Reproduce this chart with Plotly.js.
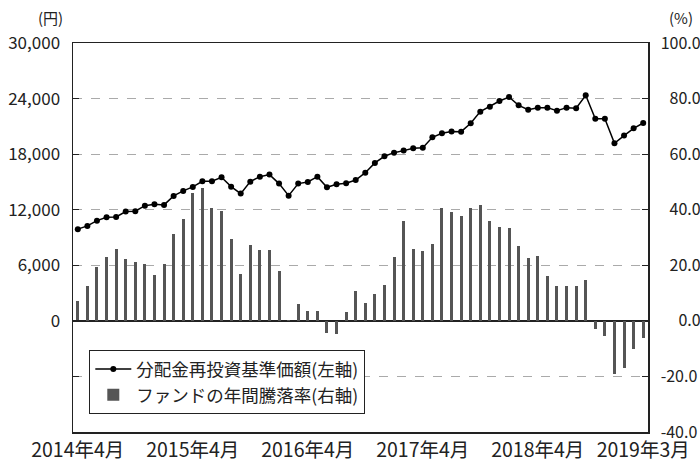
<!DOCTYPE html>
<html><head><meta charset="utf-8">
<script src="https://cdn.plot.ly/plotly-3.0.1.min.js"></script>
<style>html,body{margin:0;padding:0;background:#fff}#chart{width:700px;height:464px}</style>
</head><body><div id="chart"></div>
<script>
// monthly index: 0 = 2014年4月 ... 59 = 2019年3月
const months = Array.from({length: 60}, (_, i) => i);
const price = [9900,10250,10820,11190,11220,11800,11840,12440,12590,12520,
  13490,14030,14460,15070,15070,15500,14490,13740,15030,15570,
  15790,14820,13520,14820,15000,15570,14420,14750,14860,15210,
  16000,17050,17770,18160,18380,18630,18700,19820,20250,20450,
  20430,21330,22590,23130,23740,24170,23270,22800,23020,23020,
  22690,23020,22950,24350,21830,21830,19170,20000,20790,21360];
const returns = [7.3,12.6,19.4,23.0,25.9,22.3,21.2,20.5,16.5,20.5,
  31.3,36.7,46.0,47.8,40.6,39.6,29.5,16.9,27.3,25.5,
  25.5,18.0,0.3,6.1,3.6,3.6,-4.2,-4.6,3.2,10.8,
  6.5,9.7,12.9,23.0,36.0,25.9,25.2,27.7,40.6,39.2,
  37.8,40.6,41.7,36.0,33.8,33.5,27.0,22.7,23.4,16.2,
  12.6,12.6,12.6,14.7,-3.1,-5.3,-19.0,-16.8,-10.0,-6.0];
const xTickVals = [0,12,24,36,48,59];
const xTickText = ['2014年4月','2015年4月','2016年4月','2017年4月','2018年4月','2019年3月'];
const yenTickVals = [-6000,0,6000,12000,18000,24000,30000];
const yenTickText = ['','0','6,000','12,000','18,000','24,000','30,000'];
const pctTickVals = [-40,-20,0,20,40,60,80,100];
const pctTickText = ['-40.0','-20.0','\u2007\u20070.0','\u200720.0','\u200740.0','\u200760.0','\u200780.0','100.0'];
const lineName = '分配金再投資基準価額(左軸)';
const barName = 'ファンドの年間騰落率(右軸)';

const font = 'Noto Sans CJK JP, Noto Sans, sans-serif';
const traces = [
  {type:'bar', x: months, y: returns, name: barName, yaxis:'y', width:0.32,
   marker:{color:'#555555'}, legendrank: 2},
  {type:'scatter', mode:'lines+markers', x: months, y: price, name: lineName, yaxis:'y2',
   line:{color:'#000', width:1.5}, marker:{color:'#000', size:6}, legendrank: 1}
];
const layout = {
  width:700, height:464,
  margin:{l:73, r:52, t:43, b:32},
  paper_bgcolor:'#fff', plot_bgcolor:'#fff',
  font:{family:font, color:'#222', size:16},
  showlegend:true,
  bargap:0,
  xaxis:{range:[-0.5,59.5], tickvals:xTickVals, ticktext:xTickText, ticks:'',
    showgrid:false, zeroline:false, showline:true, mirror:true, linecolor:'#222', linewidth:1.5,
    tickfont:{size:19.5, family:font, color:'#222'}, ticklabelstandoff:0},
  yaxis:{range:[-40,100], side:'right', tickvals:pctTickVals, ticktext:pctTickText,
    ticks:'inside', ticklen:6, tickcolor:'#222', tickwidth:1,
    showgrid:true, gridcolor:'#aaaaaa', griddash:'dash', gridwidth:1,
    zeroline:true, zerolinecolor:'#222', zerolinewidth:1.5,
    showline:true, linecolor:'#222', linewidth:1.5,
    tickfont:{size:16, family:font, color:'#222'}, ticklabelstandoff:8},
  yaxis2:{range:[-12000,30000], side:'left', overlaying:'y', tickvals:yenTickVals, ticktext:yenTickText,
    ticks:'inside', ticklen:6, tickcolor:'#222', tickwidth:1,
    showgrid:false, zeroline:false, showline:true, linecolor:'#222', linewidth:1.5,
    tickfont:{size:17, family:font, color:'#222'}, ticklabelstandoff:8},
  legend:{x:0.028, y:0.211, xanchor:'left', yanchor:'top', bgcolor:'#fff',
    bordercolor:'#222', borderwidth:1.2, font:{size:17.5, family:font, color:'#222'},
    tracegroupgap:0, itemwidth:36},
  annotations:[
    {xref:'paper', yref:'paper', x:-0.04, y:1.0, yshift:13, yanchor:'bottom', text:'(円)', showarrow:false,
     xanchor:'center', font:{size:15, family:font, color:'#222'}},
    {xref:'paper', yref:'paper', x:1.058, y:1.0, yshift:13, yanchor:'bottom', text:'(%)', showarrow:false,
     xanchor:'center', font:{size:15, family:font, color:'#222'}}
  ]
};
Plotly.newPlot('chart', traces, layout, {staticPlot:true, displayModeBar:false});
</script></body></html>
